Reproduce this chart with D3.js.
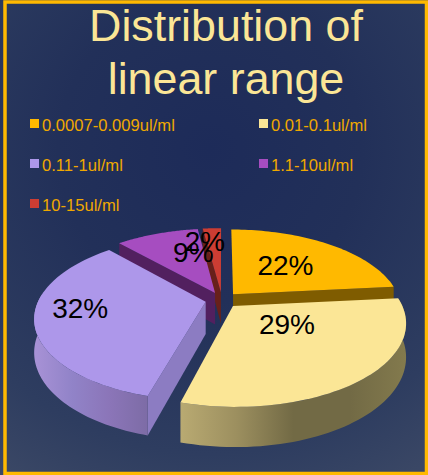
<!DOCTYPE html>
<html><head><meta charset="utf-8">
<style>html,body{margin:0;padding:0;background:#2a3960}svg{display:block}text{font-family:"Liberation Sans",Arial,sans-serif}</style>
<script src="https://cdn.jsdelivr.net/npm/d3@7/dist/d3.min.js"></script>
</head><body><svg id="chart" width="428" height="475"></svg>
<script>
const titleLines = ["Distribution of", "linear range"];
const categories = ["0.0007-0.009ul/ml", "0.01-0.1ul/ml", "0.11-1ul/ml", "1.1-10ul/ml", "10-15ul/ml"];
const percents = [22, 29, 32, 9, 2];
const topColors = ["#ffb900", "#fbe696", "#ad97ea", "#a64dc0", "#cc3d33"];
const cutColors = ["#7f5c00", "#7d7348", "#8c7cc2", "#52205f", "#68201a"];
const wallStops = [
  ["#7f5c00", "#7f5c00"],
  ["#b9aa72", "#9c8f5f", "#726a45", "#726a45", "#837a4d"],
  ["#a892d6", "#9183c8", "#8b75b8", "#7d6ca6"],
  ["#52205f", "#52205f"],
  ["#68201a", "#68201a"]
];
// Label anchors in disc coordinates, relative to each slice's own apex.
const labelAnchors = [[0.348, -0.41], [0.303, 0.21], [-0.736, 0.075], [-0.152, -0.595], [-0.113, -0.778]];

const svg = d3.select("#chart");
const width = 428, height = 475;
const defs = svg.append("defs");

// Panel background: deep navy in the upper middle, lifting towards the edges.
const bg = defs.append("radialGradient").attr("id", "panel")
  .attr("gradientUnits", "userSpaceOnUse").attr("cx", 210).attr("cy", 150).attr("r", 380);
[[0, "#1d2b59"], [0.4, "#223059"], [0.8, "#2e3d60"], [1, "#3a4765"]].forEach(([o, c]) =>
  bg.append("stop").attr("offset", o).attr("stop-color", c));
svg.append("rect").attr("width", width).attr("height", height).attr("fill", "url(#panel)");
svg.append("rect").attr("x", 5).attr("y", 2).attr("width", 421.5).attr("height", 471.5)
  .attr("fill", "none").attr("stroke", "#ffb900").attr("stroke-width", 3.5);

// Title
svg.selectAll(".title").data(titleLines).join("text").attr("class", "title")
  .attr("x", 226).attr("y", (d, i) => 41 + i * 53)
  .attr("text-anchor", "middle").attr("font-size", 44.8).attr("fill", "#fbe696").text(d => d);

// Legend, two columns of rows
const legendCol = d3.scaleOrdinal().domain([0, 1]).range([30, 259]);
const legendRow = d3.scaleLinear().domain([0, 2]).range([124, 204]);
const legend = svg.selectAll(".legend").data(categories).join("g").attr("class", "legend")
  .attr("transform", (d, i) => `translate(${legendCol(i % 2)},${legendRow(Math.floor(i / 2))})`);
legend.append("rect").attr("y", -5).attr("width", 9).attr("height", 9).attr("fill", (d, i) => topColors[i]);
legend.append("text").attr("x", 12).attr("y", 6.5).attr("font-size", 16.6).attr("fill", "#f0a800").text(d => d);

// Tilted disc with perspective: u is across, v runs from back (-1) to front (+1)
const cx = 222, cy = 300, rx = 167, ry = 79, persp = 0.19, depth = 32, explode = 0.1;
const project = (u, v, z = 0) => {
  const s = 1 / (1 - persp * v);
  return [cx + rx * u * s, cy + (ry * v + z) * s];
};

const arcs = d3.pie().value(d => d).sort(null)(percents).map((a, i) => {
  const mid = (a.startAngle + a.endAngle) / 2;
  return { ...a, i, ox: explode * Math.sin(mid), oy: -explode * Math.cos(mid) };
});
const onRim = (a, t, z = 0) => project(a.ox + Math.sin(t), a.oy - Math.cos(t), z);
const apex = (a, z = 0) => project(a.ox, a.oy, z);
const rimAngles = (a, from, to) => d3.range(0, 61).map(k => from + (to - from) * k / 60);
const line = d3.line();

// One horizontal gradient per slice for its curved outer wall
arcs.forEach(a => {
  const pts = rimAngles(a, a.startAngle, a.endAngle).map(t => onRim(a, t));
  const [x0, x1] = d3.extent(pts, p => p[0]);
  const stops = wallStops[a.i];
  const g = defs.append("linearGradient").attr("id", `wall${a.i}`)
    .attr("gradientUnits", "userSpaceOnUse").attr("x1", x0).attr("x2", x1).attr("y1", 0).attr("y2", 0);
  stops.forEach((c, k) => g.append("stop").attr("offset", k / (stops.length - 1)).attr("stop-color", c));
});

// Slices are painted back to front so nearer ones overlap farther ones
const paintOrder = [4, 3, 0, 2, 1];
const pie = svg.append("g");
paintOrder.forEach(i => {
  const a = arcs[i];
  const color = topColors[i];
  const g = pie.append("g");
  // Cut faces on the two straight edges
  [a.startAngle, a.endAngle].forEach(t => {
    const normalV = t === a.startAngle ? -Math.cos(t - Math.PI / 2) : -Math.cos(t + Math.PI / 2);
    if (normalV <= 0.001) return;
    g.append("path").attr("fill", cutColors[i])
      .attr("d", line([apex(a), onRim(a, t), onRim(a, t, depth), apex(a, depth)]) + "Z");
  });
  // Outer wall along the part of the rim facing the viewer
  const from = Math.max(a.startAngle, Math.PI * 0.47), to = Math.min(a.endAngle, Math.PI * 1.53);
  if (to > from) {
    const ts = rimAngles(a, from, to);
    const wall = [...ts.map(t => onRim(a, t)), ...ts.slice().reverse().map(t => onRim(a, t, depth))];
    g.append("path").attr("fill", `url(#wall${i})`).attr("d", line(wall) + "Z");
  }
  // Top face
  const rim = rimAngles(a, a.startAngle, a.endAngle).map(t => onRim(a, t));
  g.append("path").attr("fill", color).attr("d", line([apex(a), ...rim]) + "Z");
});

// Percentage labels
svg.selectAll(".pct").data(arcs).join("text").attr("class", "pct")
  .attr("text-anchor", "middle").attr("font-size", 28).attr("fill", "#000")
  .attr("x", a => project(a.ox + labelAnchors[a.i][0], a.oy + labelAnchors[a.i][1])[0])
  .attr("y", a => project(a.ox + labelAnchors[a.i][0], a.oy + labelAnchors[a.i][1])[1] + 10)
  .text(a => `${percents[a.i]}%`);
</script></body></html>
